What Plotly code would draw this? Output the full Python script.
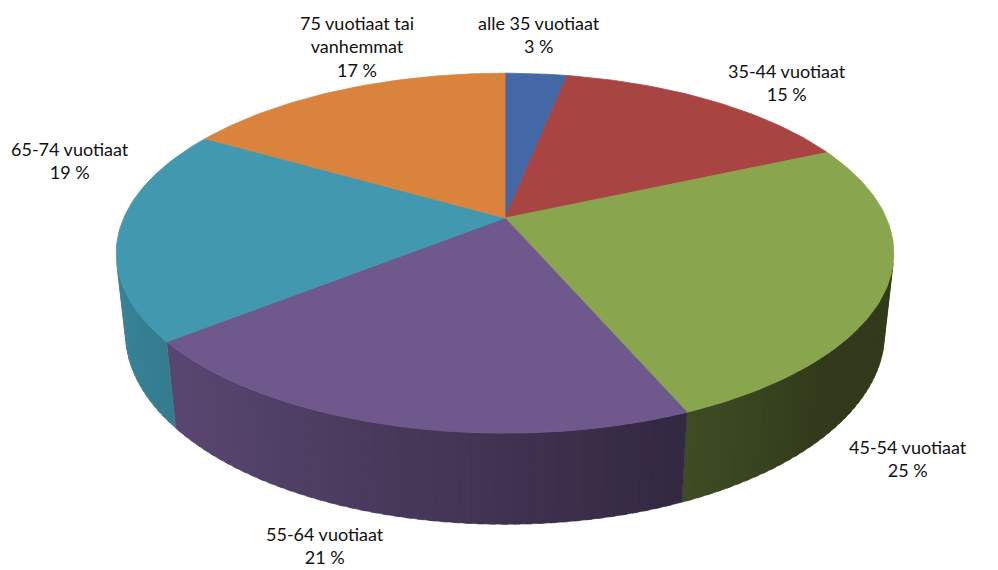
import numpy as np
import plotly.graph_objects as go

# ---- data (percent shares; labels show rounded values) ----
categories = ["alle 35 vuotiaat", "35-44 vuotiaat", "45-54 vuotiaat",
              "55-64 vuotiaat", "65-74 vuotiaat", "75 vuotiaat tai vanhemmat"]
values = [3.1, 15.2, 25.3, 20.6, 19.2, 16.6]
display_labels = ["alle 35 vuotiaat", "35-44 vuotiaat", "45-54 vuotiaat",
                  "55-64 vuotiaat", "65-74 vuotiaat", "75 vuotiaat tai<br>vanhemmat"]
top_colors = ["#4469A6", "#A84543", "#89A54E", "#6F588C", "#4198AF", "#D9833D"]

# label placement (layout, page pixel space)
label_pos = [(539, 34), (787, 82), (908, 458), (325, 545), (70, 160), (357, 46)]

# ---- projection parameters (layout) ----
CX, CY = 505, 218
PHI = np.radians(27)
DIST = 4.558
FOC = 1738
THICK = 0.237


def project(alpha, z):
    X = np.sin(alpha)
    Y = np.cos(alpha)
    depth = DIST + Y * np.cos(PHI) - z * np.sin(PHI)
    sx = FOC * X / depth
    sy = FOC * (Y * np.sin(PHI) + z * np.cos(PHI)) / depth
    return CX + sx, CY - sy


def hex_to_rgb(h):
    h = h.lstrip("#")
    return tuple(int(h[i:i + 2], 16) for i in (0, 2, 4))


def shade(h, f):
    r, g, b = hex_to_rgb(h)
    return "rgb(%d,%d,%d)" % (int(r * f), int(g * f), int(b * f))


total = sum(values)
fracs = np.cumsum([0] + values) / total
angles = 2 * np.pi * fracs

fig = go.Figure()

# visible range of the outer wall
ylim = -1.0 / (DIST * np.cos(PHI))
a_min = np.arccos(ylim)
a_max = 2 * np.pi - a_min

STEP = np.radians(1.5)
OVER = np.radians(0.8)

# side walls
for i in range(len(values)):
    a0, a1 = angles[i], angles[i + 1]
    lo, hi = max(a0, a_min), min(a1, a_max)
    if hi <= lo:
        continue
    n = max(2, int((hi - lo) / STEP) + 1)
    edges = np.linspace(lo, hi, n)
    for j in range(len(edges) - 1):
        s = edges[j]
        e = min(edges[j + 1] + OVER, hi)
        seg = np.linspace(s, e, 4)
        xt, yt = project(seg, 0.0)
        xb, yb = project(seg[::-1], -THICK)
        xs = np.concatenate([xt, xb, xt[:1]])
        ys = np.concatenate([yt, yb, yt[:1]])
        mid = 0.5 * (edges[j] + edges[j + 1])
        f = float(np.clip(0.58 - 0.30 * np.sin(mid), 0.36, 0.9))
        col = shade(top_colors[i], f)
        fig.add_trace(go.Scatter(x=xs, y=ys, mode="lines", fill="toself",
                                 fillcolor=col, line=dict(color=col, width=0.5),
                                 hoverinfo="skip", showlegend=False))

# top faces
for i in range(len(values)):
    a0, a1 = angles[i], angles[i + 1]
    seg = np.linspace(a0, a1, max(3, int(np.degrees(a1 - a0)) + 2))
    xa, ya = project(seg, 0.0)
    xs = np.concatenate([[CX], xa, [CX]])
    ys = np.concatenate([[CY], ya, [CY]])
    fig.add_trace(go.Scatter(x=xs, y=ys, mode="lines", fill="toself",
                             fillcolor=top_colors[i],
                             line=dict(color=top_colors[i], width=0.8),
                             hoverinfo="skip", showlegend=False,
                             name=categories[i]))

# labels
for lab, v, (lx, ly) in zip(display_labels, values, label_pos):
    fig.add_annotation(x=lx, y=ly, xref="x", yref="y",
                       text=f"{lab}<br>{round(v)} %", showarrow=False,
                       font=dict(family="Lato, Open Sans, sans-serif", size=18, color="#111111"),
                       align="center", xanchor="center", yanchor="middle")

# page body has an 8px default margin: figure is 990x562 and covers page pixels 8..998 / 8..570
fig.update_layout(
    width=990, height=562,
    margin=dict(l=0, r=0, t=0, b=0),
    paper_bgcolor="white", plot_bgcolor="white",
    xaxis=dict(range=[8, 998], visible=False, fixedrange=True),
    yaxis=dict(range=[570, 8], visible=False, fixedrange=True),
    showlegend=False,
)

fig.write_html("out.html")
